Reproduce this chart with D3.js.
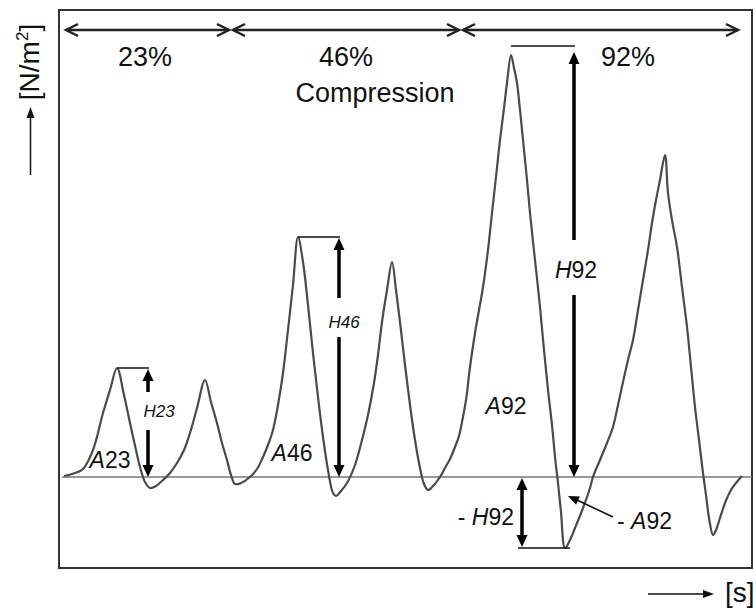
<!DOCTYPE html>
<html>
<head>
<meta charset="utf-8">
<script src="https://cdn.jsdelivr.net/npm/d3@7"></script>
<style>
  html, body { margin: 0; background: #fff; }
  text { font-family: "Liberation Sans", Arial, sans-serif; fill: #111; }
</style>
</head>
<body>
<svg id="chart" width="756" height="608"></svg>
<script>
// Texture profile: force over time for three compression levels (two bites each)
const time = [0.2, 1.0, 2.1, 3.1, 4.1, 4.8, 5.5, 6.2, 6.8, 7.4, 7.8, 8.3, 8.8, 9.4, 10.1, 10.8, 11.5, 12.2, 12.8, 13.5,
  14.3, 14.9, 15.5, 16.0, 16.5, 16.9, 17.3, 17.9, 18.8, 19.5, 20.1, 20.6, 21.1, 21.6, 22.1, 22.6, 23.1, 23.6,
  24.1, 24.6, 25.1, 25.6, 26.1, 26.6, 27.1, 27.4, 27.9, 28.5, 29.3, 30.0, 30.6, 31.2, 31.6, 32.0, 32.5, 33.0,
  33.4, 33.8, 34.3, 34.8, 35.3, 35.8, 36.2, 36.6, 37.1, 37.8,
  38.3, 38.8, 39.3, 39.7, 40.0, 40.4, 40.8, 41.3, 42.1, 42.6, 43.0, 43.4, 43.8, 44.2, 44.5, 44.9,
  45.2, 45.5, 45.8, 46.1, 46.5, 46.8, 47.3, 47.8, 48.2, 48.6, 49.0, 49.3, 49.6, 49.9, 50.3,
  50.8, 51.3, 52.1, 52.8,
  53.1, 53.8, 54.5, 55.1, 55.6, 56.1, 56.6, 57.1, 57.6, 58.1, 58.6, 59.0, 59.4, 59.8, 60.3,
  60.6, 61.0, 61.5, 62.0, 62.5, 62.9, 63.3, 63.7, 64.1, 64.4, 64.7, 65.1,
  65.4, 65.8, 66.3, 66.9, 67.4, 68.0];
const force = [1, 3, 8, 27, 64, 87, 109, 82, 54, 27, 10, -5, -11, -9, -3, 4, 14, 27, 44, 69,
  97, 75, 54, 34, 17, 2, -7, -6, 0, 8, 20, 32, 47, 72, 104, 147, 192, 240,
  215, 172, 124, 80, 40, 7, -16, -19, -14, -6, 12, 37, 62, 94, 122, 155, 187, 215,
  187, 155, 112, 72, 37, 9, -7, -13, -9, 0,
  9, 18, 30, 41, 55, 77, 110, 144, 190, 227, 264, 300, 337, 369, 394, 422,
  409, 394, 367, 337, 297, 264, 217, 170, 127, 87, 52, 20, -6, -35, -71,
  -63, -51, -31, -11,
  0, 17, 34, 50, 72, 95, 117, 137, 167, 197, 227, 254, 277, 297, 322,
  284, 257, 230, 190, 150, 110, 70, 37, 4, -18, -41, -58,
  -53, -41, -26, -13, -6, 1];

// Compression sections along the top
const sectionLabels = ["23%", "46%", "92%"];
const sectionStart = [0.2, 16.9, 39.9];
const sectionEnd = [16.9, 39.9, 67.8];

// Hardness (first-bite peak) markers
const hardLabels = ["H23", "H46", "H92"];
const hardPeakTime = [5.5, 23.6, 44.9];
const hardLevel = [109, 240, 431];
const hardArrowTime = [8.6, 27.7, 51.2];

// Adhesion (negative peak) marker at 92 %
const adhLabel = "H92";
const adhLevel = -71;
const adhArrowTime = 46.0;
const adhLineStart = 45.6;
const adhLineEnd = 50.8;

const areaLabels = ["A23", "A46", "A92"];

const svg = d3.select("#chart");
const x = d3.scaleLinear().domain([0, 69]).range([62, 752]);
const y = d3.scaleLinear().domain([-91, 467]).range([568, 10]);

// frame
svg.append("rect").attr("x", 59).attr("y", 10).attr("width", 693).attr("height", 558)
  .attr("fill", "none").attr("stroke", "#333").attr("stroke-width", 2);

// zero line
svg.append("line").attr("x1", x(0)).attr("x2", 752).attr("y1", y(0)).attr("y2", y(0))
  .attr("stroke", "#777").attr("stroke-width", 1.5);

// force curve
const pts = time.map((t, i) => [t, force[i]]);
svg.append("path").datum(pts)
  .attr("d", d3.line().x(d => x(d[0])).y(d => y(d[1])).curve(d3.curveCatmullRom.alpha(0.5)))
  .attr("fill", "none").attr("stroke", "#4a4a4a").attr("stroke-width", 2.2)
  .attr("stroke-linejoin", "round");

// helpers
function triangle(px, py, dir, len = 12, half = 5.5) {
  // dir: unit vector the head points toward
  const [dx, dy] = dir;
  const bx = px - dx * len, by = py - dy * len;
  const nx = -dy, ny = dx;
  return `M${px},${py}L${bx + nx * half},${by + ny * half}L${bx - nx * half},${by - ny * half}Z`;
}
function chevron(px, py, dirX) {
  return `M${px - dirX * 12},${py - 6}L${px},${py}L${px - dirX * 12},${py + 6}`;
}

// section arrows
const topY = 30;
sectionLabels.forEach((lab, i) => {
  const x0 = x(sectionStart[i]) + 2, x1 = x(sectionEnd[i]) - 2;
  svg.append("line").attr("x1", x0).attr("x2", x1).attr("y1", topY).attr("y2", topY)
    .attr("stroke", "#222").attr("stroke-width", 2.5);
  svg.append("path").attr("d", chevron(x0, topY, -1) + chevron(x1, topY, 1))
    .attr("fill", "none").attr("stroke", "#222").attr("stroke-width", 2.5);
});
const labelX = [145, 346, 628];
sectionLabels.forEach((lab, i) => {
  svg.append("text").attr("x", labelX[i]).attr("y", 66).attr("text-anchor", "middle")
    .attr("font-size", 27).text(lab);
});
svg.append("text").attr("x", 375).attr("y", 102).attr("text-anchor", "middle")
  .attr("font-size", 27).text("Compression");

// hardness arrows
const gaps = [[392, 430], [298, 337], [240, 295]];
const hardText = [
  { x: 159, y: 417, size: 17 },
  { x: 344, y: 328, size: 17 },
  { x: 576, y: 278, size: 23 }
];
hardLabels.forEach((lab, i) => {
  const ax = x(hardArrowTime[i]);
  const top = y(hardLevel[i]);
  const bot = y(0);
  svg.append("line").attr("x1", x(hardPeakTime[i])).attr("x2", ax + 1)
    .attr("y1", top).attr("y2", top).attr("stroke", "#111").attr("stroke-width", 1.5);
  const tipTop = top + (i === 2 ? 6 : 1);
  svg.append("path").attr("d", triangle(ax, tipTop, [0, -1])).attr("fill", "#000");
  svg.append("path").attr("d", triangle(ax, bot, [0, 1])).attr("fill", "#000");
  svg.append("line").attr("x1", ax).attr("x2", ax).attr("y1", tipTop + 10).attr("y2", gaps[i][0])
    .attr("stroke", "#000").attr("stroke-width", 3.5);
  svg.append("line").attr("x1", ax).attr("x2", ax).attr("y1", gaps[i][1]).attr("y2", bot - 10)
    .attr("stroke", "#000").attr("stroke-width", 3.5);
  const t = svg.append("text").attr("x", hardText[i].x).attr("y", hardText[i].y)
    .attr("text-anchor", "middle").attr("font-size", hardText[i].size);
  if (i < 2) {
    t.attr("font-style", "italic").text(lab);
  } else {
    t.append("tspan").attr("font-style", "italic").text(lab[0]);
    t.append("tspan").text(lab.slice(1));
  }
});

// adhesion arrow (below zero)
{
  const ax = x(adhArrowTime);
  const top = y(0), bot = y(adhLevel);
  svg.append("line").attr("x1", x(adhLineStart)).attr("x2", x(adhLineEnd))
    .attr("y1", bot).attr("y2", bot).attr("stroke", "#111").attr("stroke-width", 1.5);
  svg.append("path").attr("d", triangle(ax, top + 1, [0, -1]) + triangle(ax, bot - 1, [0, 1]))
    .attr("fill", "#000");
  svg.append("line").attr("x1", ax).attr("x2", ax).attr("y1", top + 10).attr("y2", bot - 10)
    .attr("stroke", "#000").attr("stroke-width", 3.5);
  const t = svg.append("text").attr("x", 514).attr("y", 525).attr("text-anchor", "end").attr("font-size", 23);
  t.append("tspan").text("- ");
  t.append("tspan").attr("font-style", "italic").text(adhLabel[0]);
  t.append("tspan").text(adhLabel.slice(1));
}

// area labels
const areaPos = [[110, 468], [292, 461], [506, 414]];
areaLabels.forEach((lab, i) => {
  const t = svg.append("text").attr("x", areaPos[i][0]).attr("y", areaPos[i][1])
    .attr("text-anchor", "middle").attr("font-size", 23);
  t.append("tspan").attr("font-style", "italic").text(lab[0]);
  t.append("tspan").text(lab.slice(1));
});

// negative area label with pointer
svg.append("line").attr("x1", 613).attr("y1", 517).attr("x2", 578).attr("y2", 500.5)
  .attr("stroke", "#111").attr("stroke-width", 1.6);
{
  const dx = 568 - 613, dy = 496 - 517, n = Math.hypot(dx, dy);
  svg.append("path").attr("d", triangle(568, 496, [dx / n, dy / n], 11, 4.5)).attr("fill", "#000");
  const t = svg.append("text").attr("x", 617).attr("y", 529).attr("font-size", 23);
  t.append("tspan").text("- ");
  t.append("tspan").attr("font-style", "italic").text("A");
  t.append("tspan").text("92");
}

// axis captions
svg.append("text").attr("transform", "translate(39,62) rotate(-90)").attr("text-anchor", "middle")
  .attr("font-size", 28)
  .call(t => {
    t.append("tspan").text("[N/m");
    t.append("tspan").attr("font-size", 17).attr("dy", -11).text("2");
    t.append("tspan").attr("dy", 11).text("]");
  });
svg.append("line").attr("x1", 30.5).attr("x2", 30.5).attr("y1", 175).attr("y2", 117)
  .attr("stroke", "#111").attr("stroke-width", 1.5);
svg.append("path").attr("d", triangle(30.5, 107, [0, -1], 11, 4)).attr("fill", "#111");

svg.append("line").attr("x1", 648).attr("x2", 704).attr("y1", 594).attr("y2", 594)
  .attr("stroke", "#111").attr("stroke-width", 1.5);
svg.append("path").attr("d", triangle(714, 594, [1, 0], 11, 4)).attr("fill", "#111");
svg.append("text").attr("x", 725).attr("y", 602).attr("font-size", 28).text("[s]");
</script>
</body>
</html>
